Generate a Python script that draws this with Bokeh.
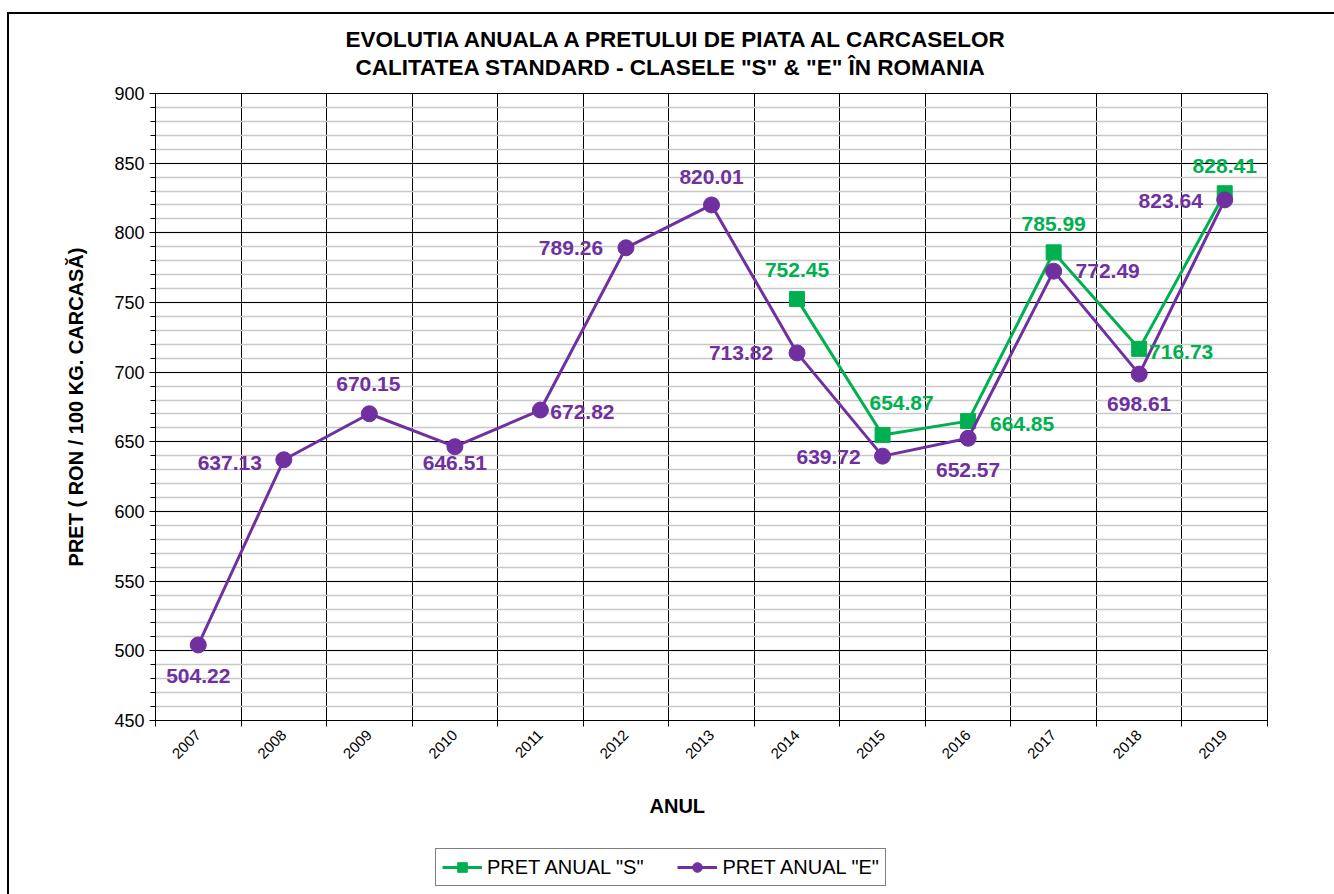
from bokeh.plotting import figure
from bokeh.layouts import column
from bokeh.models import (Range1d, FixedTicker, ColumnDataSource, LabelSet, Title,
                          Legend, LegendItem)
from bokeh.core.properties import value
from bokeh.embed import file_html
from bokeh.resources import INLINE
import math

# ---------------- data ----------------
years = ["2007", "2008", "2009", "2010", "2011", "2012", "2013",
         "2014", "2015", "2016", "2017", "2018", "2019"]
pret_e = [504.22, 637.13, 670.15, 646.51, 672.82, 789.26, 820.01,
          713.82, 639.72, 652.57, 772.49, 698.61, 823.64]
years_s = ["2014", "2015", "2016", "2017", "2018", "2019"]
pret_s = [752.45, 654.87, 664.85, 785.99, 716.73, 828.41]

title_line1 = "EVOLUTIA ANUALA  A  PRETULUI  DE PIATA   AL CARCASELOR"
title_line2 = "CALITATEA STANDARD - CLASELE \"S\" & \"E\" ÎN ROMANIA"
y_title = "PRET ( RON / 100 KG. CARCASĂ)"
x_title = "ANUL"
name_s = 'PRET ANUAL "S"'
name_e = 'PRET ANUAL "E"'

# label placement offsets (screen px, style only)
e_dx = [0, -54, -1, 0, 42, -55, 0, -56, -54, 0, 54, 0, -54]
e_dy = [-31, -3, 30, -16, -2, 0, 28, 0, -1, -32, 0, -30, -1]
s_dx = [0, 19, 54, 0, 42, 0]
s_dy = [29, 32, -3, 28, -3, 27]

GREEN = "#00B050"
PURPLE = "#7030A0"
FONT = "Liberation Sans"

xe = [years.index(y) + 1 for y in years]
xs = [years.index(y) + 1 for y in years_s]

src_e = ColumnDataSource(dict(x=xe, y=pret_e, t=["%.2f" % v for v in pret_e], dx=e_dx, dy=e_dy))
src_s = ColumnDataSource(dict(x=xs, y=pret_s, t=["%.2f" % v for v in pret_s], dx=s_dx, dy=s_dy))

p = figure(width=1325, height=831, output_backend="svg", toolbar_location=None,
           x_range=Range1d(0.5, len(years) + 0.5), y_range=Range1d(450, 900),
           min_border_left=146, min_border_right=67, min_border_top=79, min_border_bottom=125)
p.background_fill_color = "white"
p.border_fill_color = "white"
p.outline_line_color = "black"
p.outline_line_width = 1

# x axis: labels at centers, tick marks at boundaries
p.xaxis.ticker = FixedTicker(ticks=xe, minor_ticks=[i + 0.5 for i in range(len(years) + 1)])
p.xaxis.major_label_overrides = {i + 1: y for i, y in enumerate(years)}
p.xaxis.major_label_orientation = math.pi / 4
p.xaxis.major_tick_line_color = None
p.xaxis.minor_tick_line_color = "black"
p.xaxis.minor_tick_out = 6
p.xaxis.minor_tick_in = 0
p.xaxis.major_label_text_font = FONT
p.xaxis.major_label_text_font_size = "15px"
p.xaxis.major_label_text_color = "black"
p.xaxis.major_label_standoff = 6
p.xaxis.axis_line_color = "black"

# y axis
p.yaxis.ticker = FixedTicker(ticks=list(range(450, 901, 50)), minor_ticks=list(range(450, 901, 10)))
p.yaxis.major_tick_out = 6
p.yaxis.major_tick_in = 0
p.yaxis.minor_tick_out = 5
p.yaxis.minor_tick_in = 0
p.yaxis.major_tick_line_color = "black"
p.yaxis.minor_tick_line_color = "black"
p.yaxis.axis_line_color = "black"
p.yaxis.major_label_text_font = FONT
p.yaxis.major_label_text_font_size = "18px"
p.yaxis.major_label_text_color = "black"
p.yaxis.major_label_standoff = 5
p.yaxis.axis_label = y_title
p.yaxis.axis_label_text_font = FONT
p.yaxis.axis_label_text_font_size = "20px"
p.yaxis.axis_label_text_font_style = "bold"
p.yaxis.axis_label_text_color = "black"
p.yaxis.axis_label_standoff = 24

# grids
p.xgrid.ticker = FixedTicker(ticks=[i + 0.5 for i in range(1, len(years))])
p.xgrid.grid_line_color = "black"
p.xgrid.grid_line_width = 1
p.ygrid.ticker = FixedTicker(ticks=list(range(450, 901, 50)), minor_ticks=list(range(450, 901, 10)))
p.ygrid.grid_line_color = "black"
p.ygrid.grid_line_width = 1
p.ygrid.minor_grid_line_color = "#c8c8c8"
p.ygrid.minor_grid_line_width = 1.5

# series
ls = p.line("x", "y", source=src_s, line_color=GREEN, line_width=3)
ms = p.scatter("x", "y", source=src_s, marker="square", size=15, fill_color=GREEN, line_color=GREEN)
le = p.line("x", "y", source=src_e, line_color=PURPLE, line_width=3)
me = p.scatter("x", "y", source=src_e, marker="circle", size=16, fill_color=PURPLE, line_color=PURPLE)

for src, col in ((src_e, PURPLE), (src_s, GREEN)):
    p.add_layout(LabelSet(x="x", y="y", text="t", source=src, x_offset="dx", y_offset="dy",
                          text_align="center", text_baseline="middle", text_color=col,
                          text_font=value(FONT), text_font_size="21px", text_font_style="bold"))

# titles
t2 = Title(text=title_line2, align="left", offset=200, standoff=27,
           text_font=FONT, text_font_size="22.5px", text_font_style="bold", text_color="black")
t1 = Title(text=title_line1, align="left", offset=190, standoff=-25,
           text_font=FONT, text_font_size="22.5px", text_font_style="bold", text_color="black")
p.add_layout(t2, "above")
p.add_layout(t1, "above")

tx = Title(text=x_title, align="left", offset=494, standoff=52,
           text_font=FONT, text_font_size="20px", text_font_style="bold", text_color="black")
p.add_layout(tx, "below")

# legend strip below the chart (dummy renderers lie outside the strip's visible range)
p2 = figure(width=1325, height=49, output_backend="svg", toolbar_location=None,
            x_range=Range1d(0, 1), y_range=Range1d(0, 1), x_axis_type=None, y_axis_type=None,
            min_border=0, min_border_left=0, min_border_right=0, min_border_top=0, min_border_bottom=0)
p2.outline_line_color = None
p2.grid.visible = False
hide_x = [5, 6]
hide_y = [5, 5]
d_ls = p2.line(x=hide_x, y=hide_y, line_color=GREEN, line_width=3)
d_ms = p2.scatter(x=hide_x, y=hide_y, marker="square", size=15, fill_color=GREEN, line_color=GREEN)
d_le = p2.line(x=hide_x, y=hide_y, line_color=PURPLE, line_width=3)
d_me = p2.scatter(x=hide_x, y=hide_y, marker="circle", size=16, fill_color=PURPLE, line_color=PURPLE)

legend = Legend(items=[LegendItem(label=name_s, renderers=[d_ls, d_ms]),
                       LegendItem(label=name_e, renderers=[d_le, d_me])],
                location=(280, 8), orientation="horizontal")
legend.label_text_font = FONT
legend.label_text_font_size = "20px"
legend.label_text_color = "black"
legend.glyph_width = 40
legend.glyph_height = 24
legend.label_standoff = 5
legend.spacing = 34
legend.padding = 6
legend.margin = 0
legend.border_line_color = "black"
legend.border_line_width = 1
legend.background_fill_alpha = 1
p2.add_layout(legend, "center")

layout = column(p, p2, spacing=0)
layout.styles = {"border-left": "2px solid black", "border-top": "2px solid black",
                 "margin-left": "7px", "margin-top": "12px"}

open("out.html", "w").write(file_html(layout, INLINE))
